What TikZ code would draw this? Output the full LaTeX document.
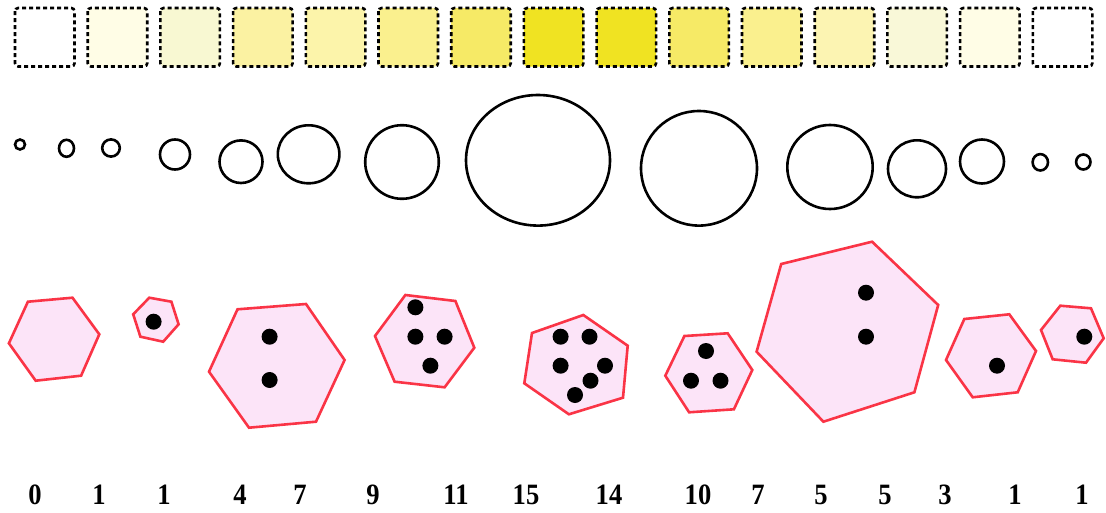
\documentclass[tikz,border=0pt]{standalone}
\usepackage{fontspec}
\setmainfont{Liberation Serif}
\usetikzlibrary{positioning}

\definecolor{sqA}{HTML}{FFFDE6}
\definecolor{sqB}{HTML}{F8F8D2}
\definecolor{sqC}{HTML}{FBF2A2}
\definecolor{sqD}{HTML}{FCF4AA}
\definecolor{sqE}{HTML}{FAF08E}
\definecolor{sqF}{HTML}{F6EA66}
\definecolor{sqG}{HTML}{F0E322}
\definecolor{sqH}{HTML}{FCF4B2}
\definecolor{sqI}{HTML}{F9F8D8}
\definecolor{hexline}{HTML}{FA3446}
\definecolor{hexfill}{HTML}{FCE4F8}

\tikzset{
  cell/.style={draw=black,line width=0.065cm,dash pattern=on 0.1cm off 0.075cm,rounded corners=0.08cm},
  ring/.style={draw=black,line width=0.065cm},
  cluster/.style={draw=hexline,fill=hexfill,line width=0.065cm,line join=miter},
  dot/.style={fill=black},
  count/.style={font=\fontsize{21}{22}\selectfont\bfseries,inner sep=0pt}
}

\begin{document}
\begin{tikzpicture}[x=0.025cm,y=-0.025cm]
  \useasboundingbox (0,0) rectangle (1106,513);
  % top row of shaded cells
  \foreach \c [count=\i from 0] in {white,sqA,sqB,sqC,sqD,sqE,sqF,sqG,sqG,sqF,sqE,sqH,sqI,sqA,white}
    \draw[cell,fill=\c] ({15+72.7*\i},8) rectangle ++(59.5,58.5);
  % rings
  \foreach \x/\y/\rx/\ry in {20/144.5/5/5, 66.5/148.3/7.5/8.5, 111/148/8.8/8.6, 175/154.5/15/15,
      241/161.7/21.5/21.3, 308.6/154.3/30.8/29, 402/162/36.8/36.8, 538/160.3/72/65.3,
      699/168.3/58/57.3, 830/167/42.7/42, 917/168.8/29/28.5, 982/161.5/22/22,
      1040.3/162.3/7.7/8.2, 1083.3/162/7.2/7.5}
    \draw[ring] (\x,\y) ellipse[x radius=\rx,y radius=\ry];
  % hexagons with dots
  \draw[cluster] (27.9,301.7) -- (72.5,297.7) -- (99.3,334.3) -- (81.1,375.7) -- (35.7,380.7) -- (8.9,343.3) -- cycle;
  \draw[cluster] (149.3,297.7) -- (171.4,301.7) -- (178.6,324.3) -- (163.2,341.7) -- (140.4,336.7) -- (133.2,314.3) -- cycle;
  \fill[dot] (153.6,321.7) circle[radius=8];
  \draw[cluster] (237.5,309.3) -- (306,304) -- (344.6,360) -- (316,421.7) -- (249,427.7) -- (209,371.7) -- cycle;
  \foreach \p in {(269.6,336.7),(269.6,380)} \fill[dot] \p circle[radius=8];
  \draw[cluster] (405.4,295) -- (455.4,301) -- (474.3,347.7) -- (444.6,387.3) -- (394.6,381.7) -- (375,336) -- cycle;
  \foreach \p in {(415.4,307.3),(415.4,336.7),(444.6,336.7),(430.4,365.7)} \fill[dot] \p circle[radius=8];
  \draw[cluster] (532,333) -- (583.3,315) -- (627.7,345.7) -- (623,397.7) -- (568.9,414.3) -- (524.3,383.3) -- cycle;
  \foreach \p in {(560.6,336.7),(589.5,336.7),(560.6,365.7),(605,365.7),(590.5,380.7),(575,395)} \fill[dot] \p circle[radius=8];
  \draw[cluster] (684.4,336) -- (727.7,333.3) -- (752.3,370) -- (733.9,409.3) -- (689.1,412.3) -- (665.3,375.7) -- cycle;
  \foreach \p in {(706,351),(691,380.7),(720.5,380.7)} \fill[dot] \p circle[radius=8];
  \draw[cluster] (781.2,264) -- (872.1,241.7) -- (938.2,305) -- (914.4,392.3) -- (823.4,421.7) -- (756.6,351.7) -- cycle;
  \foreach \p in {(866,292.7),(866,336.7)} \fill[dot] \p circle[radius=8];
  \draw[cluster] (964.3,319) -- (1009.3,314.3) -- (1036,351) -- (1017.7,392.3) -- (972.7,397.3) -- (946,360) -- cycle;
  \fill[dot] (997,365.7) circle[radius=8];
  \draw[cluster] (1060.3,305.7) -- (1091,308.3) -- (1103.7,338.3) -- (1086,362.7) -- (1052.7,359.3) -- (1041,330) -- cycle;
  \fill[dot] (1084.3,336.7) circle[radius=8];
  % counts
  \foreach \v/\x [count=\i] in {0/35,1/99,1/164,4/240,7/300,9/373,11/456,15/526,14/609,10/698,7/758,5/821,5/885,3/945,1/1015,1/1082}
    \node[count] (n\i) at (\x,495) {\scalebox{0.9}[1]{\v}};
\end{tikzpicture}
\end{document}
